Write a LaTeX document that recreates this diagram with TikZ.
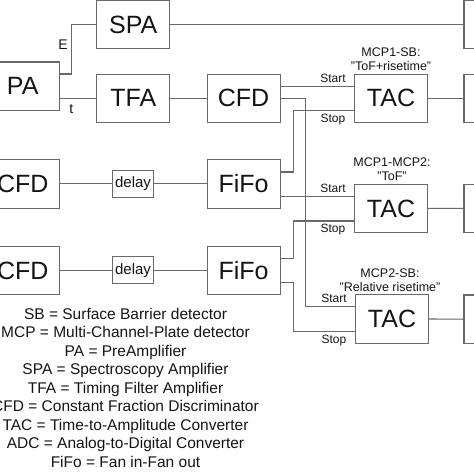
\documentclass[tikz,border=0pt]{standalone}
\usepackage{fontspec}
\setmainfont{Liberation Sans}
\usetikzlibrary{calc}
\definecolor{linecol}{RGB}{105,105,105}
\definecolor{txtcol}{RGB}{20,20,20}
\begin{document}
\begin{tikzpicture}[x=1pt,y=-1pt,
  box/.style={draw=linecol, line width=1.1pt, minimum width=73pt, minimum height=48.5pt, inner sep=0pt, font=\fontsize{25}{30}\selectfont, text=txtcol},
  dbox/.style={draw=linecol, line width=1.1pt, minimum width=40.6pt, minimum height=27pt, inner sep=0pt, font=\fontsize{15}{18}\selectfont, text=txtcol},
  wire/.style={draw=linecol, line width=1.1pt},
  lab/.style={font=\fontsize{12}{14}\selectfont, inner sep=0pt, anchor=base, text=txtcol},
  sig/.style={font=\fontsize{14}{16}\selectfont, inner sep=0pt, anchor=base, text=txtcol},
  mcp/.style={font=\fontsize{12.5}{14}\selectfont, inner sep=0pt, anchor=base, text=txtcol},
  legend/.style={font=\fontsize{15.5}{18.5}\selectfont, inner sep=0pt, anchor=base, text=txtcol}
]
\useasboundingbox (0,0) rectangle (474,474);
\clip (0,0) rectangle (474,474);

% boxes
\node[box] (PA) at (22.7,86.2) {PA};
\node[box] (SPA) at (133.3,24.5) {SPA};
\node[box] (TFA) at (133.3,98.3) {TFA};
\node[box] (CFDa) at (243.6,98.3) {CFD};
\node[box] (CFDb) at (22.7,183.8) {CFD};
\node[box] (CFDc) at (22.7,270.4) {CFD};
\node[dbox] (DLb) at (133,183.8) {delay};
\node[dbox] (DLc) at (133,270.4) {delay};
\node[box] (FFb) at (243.6,183.8) {FiFo};
\node[box] (FFc) at (243.6,270.4) {FiFo};
\node[box] (TAC1) at (391,98.3) {TAC};
\node[box] (TAC2) at (391,208.4) {TAC};
\node[box] (TAC3) at (392,319) {TAC};
\node[box] (ADC1) at (500.5,24.5) {};
\node[box] (ADC2) at (500.5,98.3) {};
\node[box] (ADC3) at (500.5,208.3) {};
\node[box] (ADC4) at (500.5,319.2) {};

% start / stop points
\coordinate (s1) at ($(TAC1.west)+(0,-12)$);
\coordinate (p1) at ($(TAC1.west)+(0,12.4)$);
\coordinate (s2) at ($(TAC2.west)+(0,-11.7)$);
\coordinate (p2) at ($(TAC2.west)+(0,12.6)$);
\coordinate (s3) at ($(TAC3.west)+(0,-12.3)$);
\coordinate (p3) at ($(TAC3.west)+(0,12.5)$);

% wires
\draw[wire] (PA.east |- 0,74) -- ++(11.7,0) |- (SPA.west);
\draw[wire] (PA.east |- TFA.west) -- (TFA.west);
\draw[wire] (SPA.east) -- (ADC1.west);
\draw[wire] (TFA.east) -- (CFDa.west);
\draw[wire] (CFDa.east |- s1) -- (s1);
\draw[wire] (CFDa.east) -- ++(25,0) |- (s3);
\draw[wire] ($(FFb.east)+(0,-11.8)$) -- ++(12.7,0) |- (p1);
\draw[wire] (FFb.east |- s2) -- (s2);
\draw[wire] ($(FFc.east)+(0,-12.3)$) -- ++(12.7,0) |- (p2);
\draw[wire] ($(FFc.east)+(0,12.3)$) -- ++(12.7,0) |- (p3);
\draw[wire] (CFDb.east) -- (DLb.west);
\draw[wire] (DLb.east) -- (FFb.west);
\draw[wire] (CFDc.east) -- (DLc.west);
\draw[wire] (DLc.east) -- (FFc.west);
\draw[wire] (TAC1.east) -- (ADC2.west);
\draw[wire] (TAC2.east) -- (ADC3.west);
\draw[wire] (TAC3.east) -- (ADC4.west);

% signal labels
\node[sig] (lE) at (63,49) {E};
\node[sig] (lt) at (71.3,113) {t};
\node[lab] (st1) at ($(s1)+(-21,-3.5)$) {Start};
\node[lab] (sp1) at ($(p1)+(-21,11.5)$) {Stop};
\node[lab] (st2) at ($(s2)+(-21,-4)$) {Start};
\node[lab] (sp2) at ($(p2)+(-21,11)$) {Stop};
\node[lab] (st3) at ($(s3)+(-21,-4)$) {Start};
\node[lab] (sp3) at ($(p3)+(-21,11.5)$) {Stop};

% TAC annotations
\node[mcp] (m1a) at ($(TAC1.north)+(0,-17.5)$) {MCP1-SB:};
\node[mcp] (m1b) at ($(TAC1.north)+(0,-3)$) {"ToF+risetime"};
\node[mcp] (m2a) at ($(TAC2.north)+(1,-17)$) {MCP1-MCP2:};
\node[mcp] (m2b) at ($(TAC2.north)+(1,-2.7)$) {"ToF"};
\node[mcp] (m3a) at ($(TAC3.north)+(-2,-16.5)$) {MCP2-SB:};
\node[mcp] (m3b) at ($(TAC3.north)+(-2,-2.8)$) {"Relative risetime"};

% legend
\node[legend] (g1) at (125.5,319.3) {SB = Surface Barrier detector};
\node[legend] (g2) at (125.5,337.8) {MCP = Multi-Channel-Plate detector};
\node[legend] (g3) at (125.5,356.3) {PA = PreAmplifier};
\node[legend] (g4) at (125.5,374.8) {SPA = Spectroscopy Amplifier};
\node[legend] (g5) at (125.5,393.3) {TFA = Timing Filter Amplifier};
\node[legend] (g6) at (125.5,411.8) {CFD = Constant Fraction Discriminator};
\node[legend] (g7) at (125.5,430.3) {TAC = Time-to-Amplitude Converter};
\node[legend] (g8) at (125.5,448.8) {ADC = Analog-to-Digital Converter};
\node[legend] (g9) at (125.5,467.3) {FiFo = Fan in-Fan out};
\end{tikzpicture}
\end{document}
